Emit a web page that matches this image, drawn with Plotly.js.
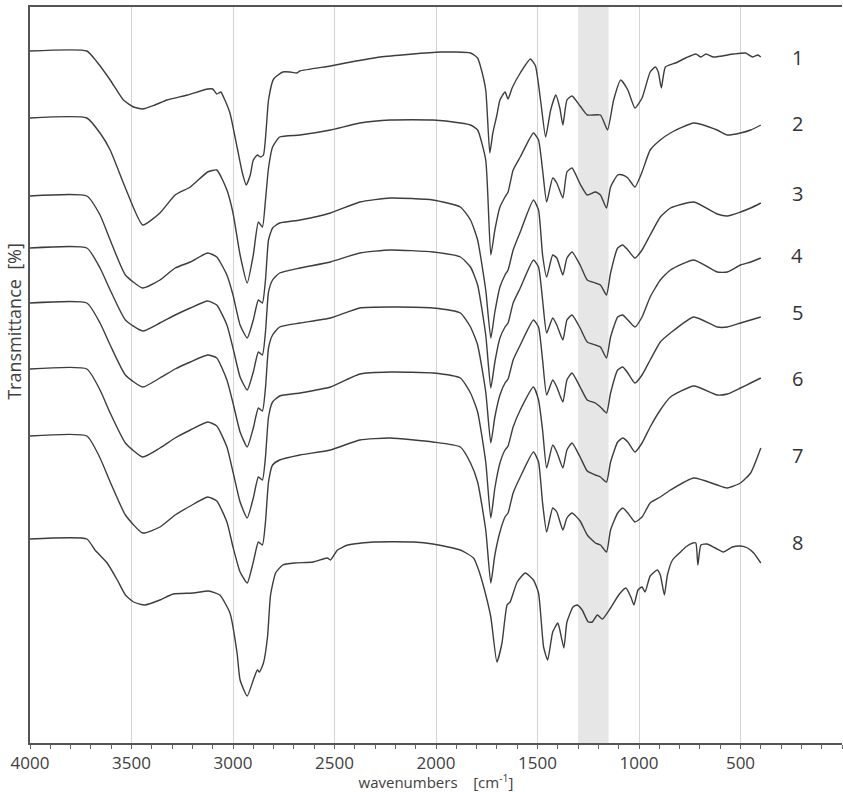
<!DOCTYPE html>
<html>
<head>
<meta charset="utf-8">
<script src="https://cdn.plot.ly/plotly-3.0.1.min.js"></script>
<style>
  html, body { margin: 0; padding: 0; background: #ffffff; }
  #chart { width: 843px; height: 792px; }
</style>
</head>
<body>
<div id="chart"></div>
<script>
// FTIR spectra, stacked with vertical offsets (arbitrary transmittance units)

// Spectrum 1 wavenumbers [cm-1] and transmittance
const wn1 = [4000, 3720, 3670, 3605, 3540, 3490, 3445, 3385, 3325, 3225, 3125, 3100, 3080, 3060, 3040, 3015, 2980, 2955, 2935, 2915, 2900, 2880, 2865, 2850, 2835, 2825, 2800, 2755, 2720, 2685, 2670, 2520, 2420, 2275, 1980, 1830, 1795, 1780, 1755, 1735, 1720, 1700, 1685, 1660, 1645, 1625, 1585, 1535, 1510, 1485, 1460, 1435, 1410, 1390, 1375, 1355, 1330, 1290, 1255, 1190, 1155, 1125, 1090, 1055, 1020, 985, 945, 920, 905, 890, 870, 820, 770, 720, 695, 670, 635, 535, 475, 440, 415, 400];
const t1 = [69.2, 69.2, 68.1, 66.3, 64.3, 63.6, 63.4, 63.8, 64.3, 64.8, 65.4, 65.4, 64.9, 65.1, 64.3, 63.0, 59.6, 57.1, 55.8, 56.8, 58.3, 58.8, 58.6, 58.8, 61.8, 64.3, 66.4, 67.1, 67.1, 67.0, 67.2, 67.7, 68.1, 68.6, 69.1, 69.0, 68.5, 67.6, 65.3, 59.0, 61.0, 62.8, 64.3, 65.1, 64.4, 65.5, 67.0, 68.4, 67.7, 64.3, 60.6, 63.3, 64.8, 63.5, 61.8, 64.3, 64.7, 63.7, 62.8, 62.8, 61.3, 64.3, 66.3, 65.3, 63.5, 64.5, 67.1, 67.6, 67.1, 65.5, 67.6, 68.0, 68.5, 68.9, 68.6, 68.9, 68.6, 68.9, 69.0, 68.6, 68.8, 68.6];

// Spectra 2-7 share one wavenumber grid [cm-1]
const wnMix = [4000, 3720, 3655, 3605, 3530, 3445, 3360, 3285, 3210, 3125, 3080, 3030, 3000, 2965, 2930, 2900, 2875, 2855, 2840, 2825, 2805, 2770, 2670, 2520, 2375, 2225, 2015, 1880, 1830, 1795, 1755, 1730, 1710, 1685, 1660, 1645, 1620, 1585, 1520, 1495, 1475, 1455, 1425, 1405, 1375, 1355, 1330, 1290, 1255, 1215, 1190, 1160, 1140, 1105, 1080, 1055, 1020, 985, 945, 895, 845, 730, 615, 565, 500, 450, 400];
const t2 = [62.5, 62.5, 61.0, 59.3, 55.5, 51.8, 53.0, 54.8, 55.6, 57.1, 57.3, 55.3, 53.0, 48.8, 46.0, 48.8, 52.1, 51.6, 54.3, 57.5, 59.6, 60.6, 60.8, 61.3, 62.0, 62.3, 62.3, 62.0, 61.8, 61.3, 58.3, 48.8, 51.3, 53.6, 54.6, 55.1, 57.3, 58.6, 61.0, 60.3, 57.3, 54.1, 56.5, 56.0, 54.5, 57.1, 57.5, 55.9, 54.8, 55.1, 54.8, 53.5, 55.6, 56.8, 56.8, 56.5, 55.6, 57.1, 59.3, 60.3, 61.0, 62.0, 61.3, 60.8, 61.0, 61.3, 61.8];
const t3 = [54.7, 54.7, 52.8, 50.3, 46.8, 45.5, 46.3, 47.5, 48.1, 49.0, 48.6, 46.8, 44.8, 41.8, 40.5, 42.3, 44.3, 44.0, 46.3, 50.3, 51.5, 52.0, 52.3, 53.0, 54.1, 54.5, 54.3, 53.6, 52.3, 50.3, 45.3, 40.5, 43.1, 45.6, 46.8, 47.3, 49.3, 51.1, 54.3, 53.3, 48.8, 46.6, 48.8, 48.5, 46.8, 48.5, 49.1, 47.8, 46.3, 46.0, 45.8, 44.8, 47.0, 49.5, 49.8, 49.3, 48.5, 49.3, 50.8, 52.6, 53.5, 54.1, 52.9, 52.7, 53.1, 53.5, 54.0];
const t4 = [49.5, 49.5, 47.5, 45.3, 42.3, 41.2, 42.0, 42.8, 43.5, 44.2, 43.8, 41.8, 39.5, 36.6, 35.3, 37.1, 39.1, 38.8, 41.1, 45.1, 46.3, 47.0, 47.5, 48.1, 49.0, 49.3, 49.1, 48.6, 47.6, 45.8, 40.8, 35.5, 38.1, 40.5, 41.6, 42.0, 44.0, 45.5, 48.3, 47.6, 44.3, 41.0, 42.5, 41.8, 40.3, 42.3, 42.8, 41.5, 40.1, 39.8, 39.6, 38.5, 40.6, 42.6, 42.8, 42.3, 41.6, 42.6, 44.6, 46.3, 47.3, 48.3, 47.1, 47.1, 47.8, 48.1, 48.5];
const t5 = [44.0, 44.0, 42.0, 39.8, 36.8, 35.6, 36.5, 37.4, 38.1, 38.8, 38.5, 36.3, 34.0, 31.1, 29.6, 31.5, 33.5, 33.2, 35.5, 39.5, 40.8, 41.6, 42.0, 42.5, 43.5, 43.6, 43.5, 43.0, 41.6, 39.8, 35.1, 30.0, 32.6, 34.8, 36.0, 36.4, 38.3, 39.8, 42.3, 41.6, 38.3, 34.8, 36.3, 35.6, 34.1, 36.3, 37.0, 35.6, 34.3, 34.0, 33.6, 33.0, 35.0, 37.3, 37.6, 37.0, 36.0, 36.8, 38.3, 40.1, 41.0, 42.6, 41.6, 41.6, 42.0, 42.3, 42.6];
const t6 = [37.4, 37.4, 35.3, 33.0, 30.0, 28.6, 29.5, 30.5, 31.3, 32.1, 31.7, 29.6, 27.1, 24.1, 22.5, 24.5, 26.6, 26.3, 28.6, 32.6, 34.1, 34.7, 35.0, 35.6, 36.9, 37.1, 37.0, 36.5, 35.0, 33.1, 28.1, 22.5, 25.5, 28.0, 29.3, 29.7, 31.6, 33.3, 35.6, 34.3, 31.3, 27.5, 29.8, 29.1, 27.5, 29.3, 30.0, 28.6, 27.2, 26.8, 26.6, 26.1, 28.1, 30.1, 30.5, 30.1, 29.1, 30.0, 31.6, 33.3, 34.6, 35.7, 34.8, 34.9, 35.5, 36.0, 36.5];
const t7 = [30.7, 30.7, 28.5, 26.1, 22.8, 21.0, 21.6, 22.8, 23.7, 24.6, 24.2, 22.1, 19.6, 17.1, 16.0, 18.1, 20.1, 19.8, 22.1, 26.1, 27.8, 28.3, 28.8, 29.3, 30.3, 30.5, 30.1, 29.6, 28.0, 26.1, 21.3, 16.0, 18.8, 21.1, 22.6, 23.0, 25.0, 26.6, 29.1, 28.1, 24.0, 21.1, 23.5, 23.1, 21.3, 22.5, 23.0, 22.2, 20.8, 20.0, 19.8, 19.1, 21.3, 23.0, 23.5, 23.0, 22.1, 22.6, 24.0, 24.6, 25.3, 26.5, 25.8, 25.5, 26.0, 27.0, 29.5];

// Spectrum 8 wavenumbers [cm-1] and transmittance
const wn8 = [4000, 3720, 3680, 3620, 3570, 3530, 3490, 3435, 3360, 3295, 3195, 3120, 3065, 3015, 2980, 2965, 2930, 2900, 2880, 2870, 2850, 2830, 2815, 2790, 2755, 2695, 2605, 2535, 2520, 2485, 2435, 2310, 2110, 2015, 1880, 1815, 1790, 1765, 1730, 1700, 1675, 1650, 1635, 1600, 1560, 1520, 1495, 1470, 1450, 1425, 1400, 1390, 1370, 1355, 1325, 1305, 1280, 1250, 1230, 1205, 1180, 1140, 1100, 1065, 1040, 1025, 1005, 985, 970, 945, 910, 895, 875, 860, 835, 795, 770, 735, 720, 710, 695, 665, 625, 585, 540, 500, 465, 435, 400];
const t8 = [20.4, 20.4, 19.3, 18.0, 16.3, 14.8, 14.1, 13.8, 14.3, 14.9, 15.0, 15.2, 14.8, 13.0, 9.0, 6.3, 4.7, 6.3, 7.3, 7.1, 8.0, 10.6, 14.8, 17.0, 17.8, 18.0, 18.1, 18.5, 18.3, 19.3, 19.8, 20.1, 20.1, 19.9, 19.3, 18.5, 17.3, 15.6, 12.6, 8.1, 10.0, 13.8, 14.1, 16.1, 17.0, 16.3, 15.0, 9.6, 8.3, 11.1, 12.0, 11.3, 9.5, 12.1, 13.6, 13.8, 13.3, 12.1, 12.1, 12.8, 12.4, 13.5, 14.8, 15.5, 14.6, 13.8, 15.3, 15.6, 15.1, 16.7, 17.3, 16.8, 14.8, 16.8, 18.3, 19.1, 19.6, 20.0, 20.0, 17.8, 19.8, 19.9, 19.5, 19.1, 19.6, 19.7, 19.5, 19.0, 18.0];

// Sample labels and axis ticks
const sampleNames = ['1', '2', '3', '4', '5', '6', '7', '8'];
const tickValues = [4000, 3500, 3000, 2500, 2000, 1500, 1000, 500];
const tickLabels = ['4000', '3500', '3000', '2500', '2000', '1500', '1000', '500'];
const bandRange = [1300, 1150];

// Label placement (layout only)
const labelX = 220;
const labelLevels = [68.6, 62.0, 55.0, 48.8, 43.1, 36.5, 28.8, 20.1];

const series = [
  [wn1, t1], [wnMix, t2], [wnMix, t3], [wnMix, t4],
  [wnMix, t5], [wnMix, t6], [wnMix, t7], [wn8, t8]
];

const lineColor = '#3d3d3d';
const traces = series.map((s, i) => ({
  type: 'scatter',
  mode: 'lines',
  name: sampleNames[i],
  x: s[0],
  y: s[1],
  line: { color: lineColor, width: 1.4, shape: 'spline', smoothing: 0.5 },
  hoverinfo: 'skip'
}));

const textFont = 'Open Sans, Arial, sans-serif';

const annotations = sampleNames.map((n, i) => ({
  x: labelX, y: labelLevels[i], xref: 'x', yref: 'y',
  text: n, showarrow: false, xanchor: 'center', yanchor: 'middle',
  font: { family: textFont, size: 20, color: '#333333' }
}));

annotations.push({
  x: -0.019, y: 0.573, xref: 'paper', yref: 'paper',
  text: 'Transmittance\u00a0\u00a0[%]', textangle: -90, showarrow: false,
  xanchor: 'center', yanchor: 'middle',
  font: { family: textFont, size: 18, color: '#404040' }
});

const layout = {
  width: 843,
  height: 792,
  margin: { l: 30, r: 1, t: 7, b: 49 },
  paper_bgcolor: '#ffffff',
  plot_bgcolor: '#ffffff',
  showlegend: false,
  xaxis: {
    range: [4000, 0],
    tickvals: tickValues,
    ticktext: tickLabels,
    ticks: 'outside',
    ticklen: 4,
    tickwidth: 1,
    tickcolor: '#666666',
    ticklabelstandoff: 0,
    showgrid: true,
    gridcolor: '#d4d4d4',
    gridwidth: 1,
    zeroline: false,
    showline: true,
    linecolor: '#555555',
    linewidth: 1.6,
    mirror: true,
    minor: { dtick: 100, ticks: 'outside', ticklen: 4, tickcolor: '#666666', showgrid: false },
    tickfont: { family: textFont, size: 17, color: '#404040' },
    title: {
      text: 'wavenumbers\u00a0\u00a0\u00a0\u00a0[cm<sup>-1</sup>]',
      font: { family: textFont, size: 15, color: '#404040' },
      standoff: 1
    }
  },
  yaxis: {
    range: [0, 73.6],
    showticklabels: false,
    ticks: '',
    showgrid: false,
    zeroline: false,
    showline: true,
    linecolor: '#555555',
    linewidth: 1.6
  },
  shapes: [{
    type: 'rect', xref: 'x', yref: 'paper',
    x0: bandRange[0], x1: bandRange[1], y0: 0, y1: 1,
    fillcolor: '#e6e6e6', line: { width: 0 }, layer: 'below'
  }],
  annotations: annotations
};

Plotly.newPlot('chart', traces, layout, { displayModeBar: false, staticPlot: true });
</script>
</body>
</html>
